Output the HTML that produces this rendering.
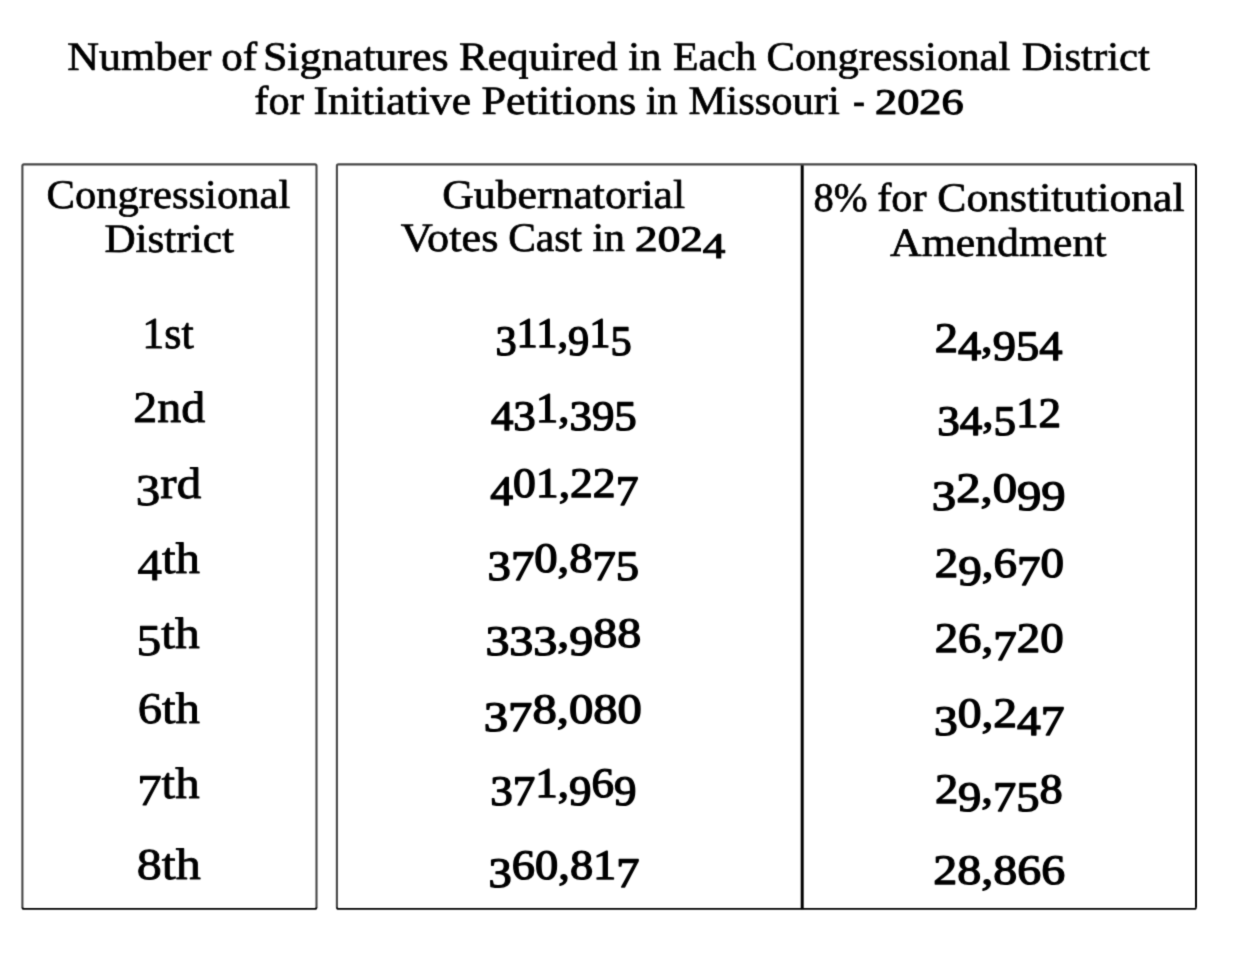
<!DOCTYPE html>
<html lang="en">
<head>
<meta charset="utf-8">
<style>
html, body { margin: 0; padding: 0; background: #fff; overflow: hidden; }
svg { display: block; }
text { font-family: "Liberation Serif", "DejaVu Serif", serif; fill: #000; stroke: #000; stroke-width: 0.7px; stroke-linejoin: round; text-rendering: geometricPrecision; }
.t { font-size: 40.5px; }
.r { font-size: 44px; stroke-width: 0.9px; }
.n { font-size: 42px; stroke-width: 1.3px; }
.y { font-size: 36px; stroke-width: 1.1px; }
</style>
</head>
<body>
<svg width="1240" height="958" viewBox="0 0 1240 958">
<defs>
<filter id="soften" filterUnits="userSpaceOnUse" x="0" y="0" width="1240" height="958" color-interpolation-filters="sRGB">
<feConvolveMatrix order="3" kernelMatrix="0.0225 0.105 0.0225 0.105 0.49 0.105 0.0225 0.105 0.0225" divisor="1" edgeMode="duplicate" preserveAlpha="false"/>
</filter>
</defs>
<g class="sheet" filter="url(#soften)">
<g class="rules" fill="none" stroke-linejoin="round">
<path class="box" d="M22.4 907.6V166Q22.4 164.4 24 164.4H314.9Q316.5 164.4 316.5 166V907.6" stroke="#474747" stroke-width="2.1"/>
<path class="box" d="M336.9 907.6V166Q336.9 164.4 338.5 164.4H1194.2" stroke="#474747" stroke-width="2.1"/>
<path d="M802.2 165.2V909.2" stroke="#000" stroke-width="3"/>
<path d="M1194 164.5Q1196 164.5 1196 166.5V907.6" stroke="#000" stroke-width="2"/>
<path d="M22.4 907.3Q22.4 908.9 24 908.9H314.9Q316.5 908.9 316.5 907.3M336.9 907.3Q336.9 908.9 338.5 908.9H1194.4Q1196 908.9 1196 907.3" stroke="#000" stroke-width="1.9"/>
</g>
<g class="title">
<text class="t" y="70"><tspan x="67.3" textLength="144.1" lengthAdjust="spacingAndGlyphs">Number</tspan> <tspan x="221.2" textLength="36" lengthAdjust="spacingAndGlyphs">of</tspan> <tspan x="262.9" textLength="185.8" lengthAdjust="spacingAndGlyphs">Signatures</tspan> <tspan x="459" textLength="158.6" lengthAdjust="spacingAndGlyphs">Required</tspan> <tspan x="628.2" textLength="33.2" lengthAdjust="spacingAndGlyphs">in</tspan> <tspan x="672.9" textLength="83.5" lengthAdjust="spacingAndGlyphs">Each</tspan> <tspan x="766.5" textLength="243.8" lengthAdjust="spacingAndGlyphs">Congressional</tspan> <tspan x="1021.7" textLength="128.3" lengthAdjust="spacingAndGlyphs">District</tspan></text>
<text class="t" y="114"><tspan x="254.3" textLength="49.5" lengthAdjust="spacingAndGlyphs">for</tspan> <tspan x="313.6" textLength="157.4" lengthAdjust="spacingAndGlyphs">Initiative</tspan> <tspan x="481.5" textLength="154.7" lengthAdjust="spacingAndGlyphs">Petitions</tspan> <tspan x="646" textLength="31.7" lengthAdjust="spacingAndGlyphs">in</tspan> <tspan x="688.5" textLength="151.3" lengthAdjust="spacingAndGlyphs">Missouri</tspan> <tspan x="852.9" textLength="11.9" lengthAdjust="spacingAndGlyphs">-</tspan> <tspan class="y" x="875" textLength="88.6" lengthAdjust="spacingAndGlyphs">2026</tspan></text>
</g>
<g class="col district">
<text class="t" y="208" x="46.5" textLength="243.8" lengthAdjust="spacingAndGlyphs">Congressional</text>
<text class="t" y="252" x="104.4" textLength="129.5" lengthAdjust="spacingAndGlyphs">District</text>
<text class="r" y="348" x="142.3" textLength="51.4" lengthAdjust="spacingAndGlyphs">1st</text>
<text class="r" y="422" x="133.3" textLength="72" lengthAdjust="spacingAndGlyphs">2nd</text>
<text class="r" y="498" x="135.8" textLength="65.4" lengthAdjust="spacingAndGlyphs" dy="7 -7">3rd</text>
<text class="r" y="573" x="137.6" textLength="62.4" lengthAdjust="spacingAndGlyphs" dy="7 -7">4th</text>
<text class="r" y="648" x="136.5" textLength="63.2" lengthAdjust="spacingAndGlyphs" dy="7 -7">5th</text>
<text class="r" y="723" x="137.7" textLength="62.2" lengthAdjust="spacingAndGlyphs">6th</text>
<text class="r" y="798" x="137.2" textLength="62.4" lengthAdjust="spacingAndGlyphs" dy="7 -7">7th</text>
<text class="r" y="879" x="136.8" textLength="64" lengthAdjust="spacingAndGlyphs">8th</text>
</g>
<g class="col votes">
<text class="t" y="208" x="442.3" textLength="242.8" lengthAdjust="spacingAndGlyphs">Gubernatorial</text>
<text class="t" y="251"><tspan x="400.8" textLength="97.7" lengthAdjust="spacingAndGlyphs">Votes</tspan> <tspan x="508.2" textLength="73.8" lengthAdjust="spacingAndGlyphs">Cast</tspan> <tspan x="592.4" textLength="32.6" lengthAdjust="spacingAndGlyphs">in</tspan> <tspan class="y" x="635.1" textLength="90.3" lengthAdjust="spacingAndGlyphs" dy="0 0 0 7">2024</tspan></text>
<text class="n" y="347" x="495.4" textLength="136.3" lengthAdjust="spacingAndGlyphs" dy="8 -8 0 0 8 -8 8">311,915</text>
<text class="n" y="422" x="490.9" textLength="145.9" lengthAdjust="spacingAndGlyphs" dy="8 0 -8 0 8">431,395</text>
<text class="n" y="497" x="490.2" textLength="148.3" lengthAdjust="spacingAndGlyphs" dy="8 -8 0 0 0 0 8">401,227</text>
<text class="n" y="572" x="487.6" textLength="151.5" lengthAdjust="spacingAndGlyphs" dy="8 0 -8 0 0 8">370,875</text>
<text class="n" y="647" x="485.4" textLength="155.8" lengthAdjust="spacingAndGlyphs" dy="8 0 0 -8 8 -8">333,988</text>
<text class="n" y="723" x="483.8" textLength="158.1" lengthAdjust="spacingAndGlyphs" dy="8 0 -8">378,080</text>
<text class="n" y="797" x="490.2" textLength="146.3" lengthAdjust="spacingAndGlyphs" dy="8 0 -8 0 8 -8 8">371,969</text>
<text class="n" y="879" x="488.6" textLength="151" lengthAdjust="spacingAndGlyphs" dy="8 -8 0 0 0 0 8">360,817</text>
</g>
<g class="col required">
<text class="t" y="211"><tspan x="813.4" textLength="54.1" lengthAdjust="spacingAndGlyphs">8%</tspan> <tspan x="877.3" textLength="49.3" lengthAdjust="spacingAndGlyphs">for</tspan> <tspan x="937.3" textLength="247.3" lengthAdjust="spacingAndGlyphs">Constitutional</tspan></text>
<text class="t" y="256" x="890" textLength="216.5" lengthAdjust="spacingAndGlyphs">Amendment</text>
<text class="n" y="352" x="934.7" textLength="127.7" lengthAdjust="spacingAndGlyphs" dy="0 8 -8 8">24,954</text>
<text class="n" y="427" x="937.3" textLength="123.8" lengthAdjust="spacingAndGlyphs" dy="8 0 -8 8 -8">34,512</text>
<text class="n" y="502" x="931.8" textLength="133.9" lengthAdjust="spacingAndGlyphs" dy="8 -8 0 0 8">32,099</text>
<text class="n" y="577" x="934.7" textLength="129.3" lengthAdjust="spacingAndGlyphs" dy="0 8 -8 0 8 -8">29,670</text>
<text class="n" y="652" x="934.7" textLength="128.9" lengthAdjust="spacingAndGlyphs" dy="0 0 0 8 -8">26,720</text>
<text class="n" y="727" x="933.9" textLength="130.7" lengthAdjust="spacingAndGlyphs" dy="8 -8 0 0 8">30,247</text>
<text class="n" y="803" x="934.9" textLength="127.8" lengthAdjust="spacingAndGlyphs" dy="0 8 -8 8 0 -8">29,758</text>
<text class="n" y="884" x="933.3" textLength="131.9" lengthAdjust="spacingAndGlyphs">28,866</text>
</g>
</g>
</svg>
</body>
</html>
